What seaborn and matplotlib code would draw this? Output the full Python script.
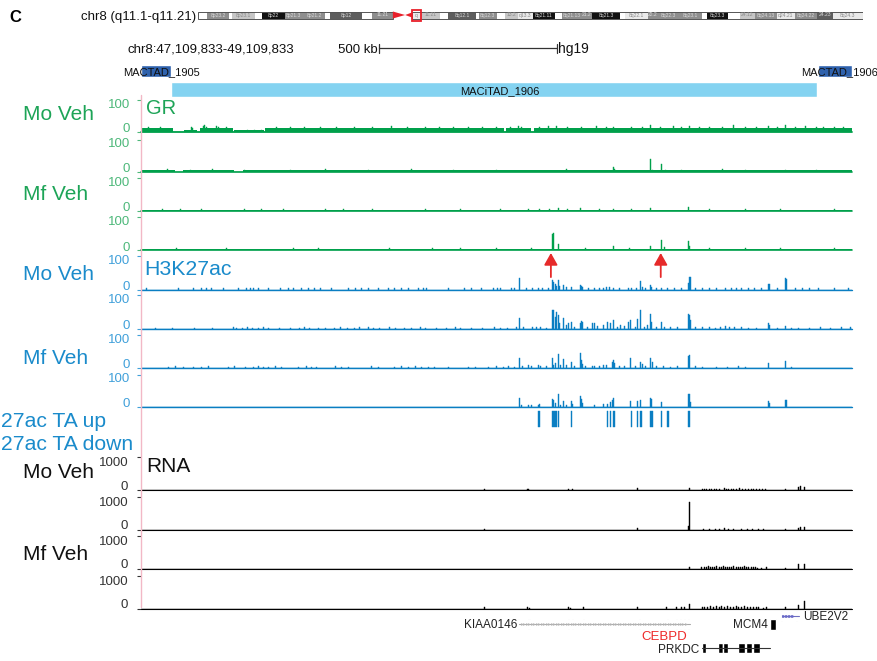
import numpy as np
import pandas as pd
import matplotlib
matplotlib.use("Agg")
import matplotlib.pyplot as plt
import seaborn as sns
from matplotlib import font_manager as fm
from matplotlib.lines import Line2D
from matplotlib.patches import Rectangle, Polygon

# ---------------------------------------------------------------- data
panel_letter = "C"
chrom_label = "chr8 (q11.1-q11.21)"
region_label = "chr8:47,109,833-49,109,833"
scale_label = "500 kb"
genome_label = "hg19"
window_kb = 2000          # 47,109,833 - 49,109,833
view_mb = (47.1, 49.1)    # highlighted region on the ideogram
scalebar_kb = (669, 1169)

# chromosome 8 ideogram bands: start Mb, end Mb, stain, name
band_start = [0, 2.0, 6.8, 7.5, 12.5, 14.1, 19.1, 23.1, 28.0, 29.1, 36.1, 38.3,
              47.1, 49.1, 53.3, 55.0, 61.2, 61.8, 65.8, 67.6, 70.4, 73.7, 78.6,
              80.1, 84.5, 86.7, 92.9, 94.0, 99.0, 101.0, 106.1, 110.9, 112.0,
              116.6, 119.3, 122.6, 127.4, 131.4, 136.2, 139.7]
band_end = [2.0, 6.8, 7.5, 12.5, 14.1, 19.1, 23.1, 28.0, 29.1, 36.1, 38.3, 42.9,
            49.1, 53.3, 55.0, 61.2, 61.8, 65.8, 67.6, 70.4, 73.7, 78.6, 80.1,
            84.5, 86.7, 92.9, 94.0, 99.0, 101.0, 106.1, 110.9, 112.0, 116.6,
            119.3, 122.6, 127.4, 131.4, 136.2, 139.7, 146.4]
band_stain = ["w", "g50", "w", "g25", "w", "g100", "g50", "g50", "w", "g75", "w", "g50",
              "g10", "g25", "w", "g75", "w", "g50", "w", "g25", "g10", "g100", "w",
              "g50", "g50", "g100", "w", "g10", "g50", "g50", "g50", "w", "g100",
              "w", "g25", "g50", "g10", "g50", "g75", "g10"]
band_name = ["", "8p23.2", "", "8p23.1", "", "8p22", "8p21.3", "8p21.2", "", "8p12", "", "11.21",
             "q", "11.21", "", "8q12.1", "", "8q12.3", "", "13.2", "q13.3", "8q21.11", "",
             "8q21.13", "21.2", "8q21.3", "", "8q22.1", "22.2", "8q22.3", "8q23.1", "", "8q23.3",
             "", "24.12", "8q24.13", "q24.21", "8q24.22", "24.23", "8q24.3"]
centromere_mb = (42.9, 45.6, 47.1)
chrom_len_mb = 146.4

# TADs (kb within window)
tad_boxes = [(0, 84), (1904, 96)]
itad_boxes = [(84, 1818)]
tad_left_label = "MACTAD_1905"
tad_right_label = "MACTAD_1906"
itad_label = "MACiTAD_1906"

# GR ChIP-seq (kb, signal)
gr_mo1_floor = [(0, 91, 12), (120, 158, 5), (166, 259, 12), (262, 345, 4),
                (349, 1021, 12), (1028, 1098, 12), (1106, 2000, 12)]
gr_mo1 = [(20, 15), (55, 14), (141, 15), (146, 12), (175, 18), (180, 20), (185, 14), (213, 16),
          (218, 14), (240, 15), (300, 6), (320, 5), (340, 6), (380, 15), (420, 15), (460, 14),
          (505, 15), (550, 14), (600, 15), (650, 14), (705, 19), (750, 15), (800, 15),
          (840, 14), (880, 15), (920, 14), (960, 15), (1000, 14), (1040, 15), (1061, 17),
          (1071, 15), (1120, 14), (1146, 16), (1169, 17), (1200, 15), (1240, 14), (1282, 19),
          (1310, 15), (1330, 15), (1380, 15), (1410, 14), (1432, 21), (1460, 15), (1497, 17),
          (1520, 14), (1543, 17), (1570, 14), (1600, 15), (1635, 14), (1666, 22), (1700, 15),
          (1730, 14), (1765, 17), (1790, 15), (1812, 22), (1840, 14), (1868, 17), (1900, 14),
          (1920, 15), (1950, 14), (1975, 15)]
gr_mo2_floor = [(0, 95, 4), (118, 262, 4), (286, 2000, 4)]
gr_mo2 = [(75, 7), (140, 6), (200, 7), (290, 6), (420, 6), (520, 7), (640, 6), (760, 7),
          (880, 6), (1000, 6), (1196, 8), (1329, 13), (1333, 8), (1432, 39), (1440, 6),
          (1464, 23), (1475, 6), (1520, 6), (1636, 7), (1700, 6), (1812, 6), (1900, 6)]
gr_mf1_floor = [(0, 2000, 2)]
gr_mf1 = [(60, 5), (110, 6), (170, 5), (290, 5), (340, 5), (400, 6), (520, 5), (570, 6),
          (650, 5), (800, 5), (900, 5), (1010, 5), (1090, 5), (1120, 6), (1150, 5),
          (1174, 10), (1200, 6), (1235, 10), (1290, 5), (1330, 6), (1380, 5), (1434, 8),
          (1540, 13), (1600, 5), (1700, 5), (1800, 5), (1950, 5)]
gr_mf2_floor = [(0, 2000, 4)]
gr_mf2 = [(100, 6), (240, 6), (430, 6), (500, 7), (700, 6), (820, 7), (900, 6), (1000, 6),
          (1099, 7), (1157, 48), (1160, 52), (1174, 19), (1250, 6), (1329, 13), (1373, 6),
          (1432, 13), (1464, 32), (1472, 11), (1540, 29), (1544, 13), (1600, 6), (1700, 6),
          (1800, 6), (1950, 6)]

# H3K27ac ChIP-seq (kb, signal)
k27_mo1 = [(16, 4), (105, 4), (147, 4), (171, 4), (185, 4), (199, 4), (232, 5), (274, 4),
           (297, 4), (307, 5), (316, 4), (330, 4), (358, 4), (393, 5), (414, 4), (428, 4),
           (452, 4), (471, 4), (489, 5), (504, 4), (536, 4), (583, 4), (602, 4), (621, 5),
           (639, 4), (668, 4), (696, 4), (714, 5), (733, 4), (752, 4), (780, 5), (794, 5),
           (804, 4), (864, 5), (911, 4), (930, 4), (958, 4), (991, 4), (1003, 5), (1012, 4),
           (1043, 4), (1050, 4), (1064, 33), (1085, 5), (1100, 5), (1118, 5), (1130, 5),
           (1145, 4), (1157, 27), (1160, 22), (1165, 15), (1168, 10), (1174, 27), (1177, 10),
           (1188, 12), (1196, 6), (1211, 6), (1235, 12), (1240, 10), (1243, 6), (1260, 5),
           (1277, 4), (1290, 5), (1301, 5), (1310, 7), (1319, 6), (1329, 5), (1345, 4),
           (1371, 5), (1380, 4), (1395, 5), (1406, 24), (1410, 8), (1420, 4), (1432, 14),
           (1436, 6), (1450, 4), (1465, 4), (1480, 4), (1500, 4), (1520, 4), (1540, 19),
           (1543, 38), (1547, 38), (1560, 4), (1580, 4), (1600, 5), (1620, 4), (1645, 4),
           (1660, 5), (1675, 4), (1690, 4), (1710, 4), (1725, 4), (1745, 4), (1765, 17),
           (1768, 17), (1790, 4), (1812, 33), (1816, 30), (1840, 4), (1860, 4), (1880, 4),
           (1905, 4), (1950, 4), (1990, 4)]
k27_mo2 = [(40, 4), (90, 4), (150, 4), (200, 4), (260, 5), (270, 4), (285, 4), (300, 5),
           (315, 4), (330, 4), (345, 5), (360, 4), (390, 4), (420, 4), (445, 4), (460, 5),
           (475, 4), (500, 4), (520, 4), (545, 4), (560, 5), (580, 4), (600, 4), (615, 5),
           (640, 5), (655, 4), (670, 4), (700, 5), (715, 4), (740, 4), (760, 4), (785, 5),
           (800, 4), (830, 4), (860, 4), (885, 5), (900, 4), (930, 4), (960, 4), (995, 5),
           (1010, 4), (1030, 4), (1055, 5), (1064, 33), (1075, 6), (1100, 5), (1113, 6),
           (1125, 6), (1140, 4), (1157, 55), (1160, 55), (1165, 35), (1168, 49), (1174, 42),
           (1178, 17), (1188, 31), (1196, 12), (1203, 17), (1211, 22), (1220, 5), (1235, 17),
           (1240, 25), (1243, 22), (1255, 6), (1270, 17), (1277, 17), (1285, 8), (1301, 12),
           (1312, 22), (1320, 17), (1329, 26), (1340, 6), (1350, 12), (1360, 10), (1371, 22),
           (1378, 26), (1390, 5), (1396, 28), (1406, 57), (1415, 6), (1425, 12), (1432, 44),
           (1436, 22), (1450, 6), (1464, 22), (1472, 6), (1490, 5), (1510, 5), (1540, 44),
           (1543, 42), (1547, 26), (1560, 6), (1580, 5), (1600, 6), (1615, 4), (1630, 5),
           (1645, 8), (1655, 6), (1670, 5), (1690, 5), (1710, 4), (1730, 4), (1765, 17),
           (1768, 12), (1790, 4), (1812, 10), (1830, 4), (1850, 4), (1880, 4), (1910, 5),
           (1940, 4), (1970, 5), (1995, 6)]
k27_mf1 = [(77, 4), (96, 5), (119, 4), (147, 4), (171, 4), (189, 5), (246, 4), (264, 5),
           (293, 4), (316, 4), (330, 5), (344, 4), (358, 4), (377, 5), (396, 4), (443, 4),
           (466, 5), (480, 4), (494, 4), (546, 5), (565, 4), (583, 4), (649, 5), (668, 4),
           (714, 4), (733, 5), (752, 4), (771, 5), (790, 4), (808, 4), (827, 4), (864, 4),
           (921, 4), (940, 4), (977, 4), (1000, 5), (1020, 4), (1035, 6), (1050, 4),
           (1064, 30), (1072, 6), (1090, 8), (1098, 5), (1118, 8), (1125, 5), (1140, 6),
           (1157, 30), (1160, 10), (1165, 15), (1174, 41), (1180, 8), (1188, 27), (1196, 8),
           (1211, 17), (1220, 5), (1235, 44), (1240, 25), (1243, 12), (1250, 5), (1270, 6),
           (1277, 5), (1290, 6), (1301, 8), (1310, 8), (1325, 17), (1329, 24), (1333, 14),
           (1345, 5), (1360, 6), (1378, 30), (1390, 5), (1406, 17), (1410, 11), (1420, 5),
           (1434, 30), (1438, 18), (1450, 5), (1470, 5), (1490, 4), (1510, 5), (1540, 35),
           (1543, 38), (1560, 5), (1580, 4), (1620, 4), (1650, 4), (1680, 5), (1700, 4),
           (1765, 16), (1812, 22), (1830, 4)]
k27_mf2 = [(1064, 28), (1070, 6), (1090, 6), (1099, 5), (1118, 6), (1121, 8), (1157, 26),
           (1160, 22), (1165, 12), (1174, 41), (1180, 6), (1188, 19), (1196, 6), (1211, 19),
           (1214, 8), (1235, 34), (1240, 26), (1243, 12), (1277, 5), (1301, 8), (1312, 8),
           (1320, 16), (1326, 22), (1330, 28), (1378, 20), (1396, 19), (1406, 21),
           (1432, 28), (1436, 24), (1464, 16), (1540, 39), (1543, 39), (1547, 16),
           (1765, 17), (1768, 12), (1812, 23), (1816, 23)]
# TA-regulated H3K27ac regions (start kb, width kb)
ta_up_regions = [(1118, 3.5), (1155, 14), (1172, 3.5), (1209, 3.5), (1310, 3.5), (1318, 3.5),
                 (1328, 4.5), (1377, 3.5), (1394, 3.5), (1404, 4.5), (1431, 8), (1462, 3.5),
                 (1481, 3.5), (1538, 6)]
arrow_kb = [1153, 1462]

# RNA-seq (kb, signal)
rna_mo1 = [(967, 40), (1086, 40), (1090, 30), (1202, 40), (1214, 30), (1396, 50), (1542, 70),
           (1580, 30), (1586, 40), (1592, 30), (1600, 30), (1606, 40), (1612, 20), (1620, 40),
           (1628, 30), (1640, 70), (1646, 40), (1652, 30), (1660, 30), (1668, 40), (1676, 30),
           (1684, 50), (1692, 30), (1700, 40), (1708, 30), (1716, 40), (1724, 30), (1732, 40),
           (1740, 30), (1748, 20), (1756, 30), (1813, 30), (1849, 80), (1854, 120), (1865, 100)]
rna_mo2 = [(967, 30), (1396, 40), (1539, 100), (1542, 840), (1582, 20), (1600, 30), (1615, 20),
           (1628, 30), (1640, 40), (1652, 20), (1668, 30), (1690, 30), (1705, 20), (1720, 30),
           (1738, 20), (1750, 30), (1813, 30), (1849, 60), (1854, 80), (1865, 70)]
rna_mf1 = [(1542, 40), (1578, 40), (1584, 60), (1590, 50), (1596, 70), (1602, 40), (1608, 60),
           (1614, 50), (1620, 80), (1626, 60), (1632, 40), (1638, 70), (1644, 60), (1650, 50),
           (1656, 40), (1662, 60), (1668, 70), (1674, 50), (1680, 40), (1686, 60), (1692, 50),
           (1698, 70), (1704, 40), (1710, 60), (1716, 50), (1722, 40), (1728, 60), (1734, 30),
           (1746, 30), (1760, 40), (1813, 30), (1849, 130), (1865, 130)]
rna_mf2 = [(967, 40), (1086, 40), (1092, 30), (1202, 40), (1207, 30), (1245, 40), (1396, 50),
           (1479, 40), (1507, 40), (1521, 50), (1530, 40), (1542, 130), (1580, 50), (1586, 60),
           (1594, 50), (1602, 70), (1610, 60), (1618, 80), (1626, 50), (1634, 70), (1642, 60),
           (1650, 80), (1658, 50), (1666, 60), (1674, 70), (1682, 50), (1690, 60), (1698, 70),
           (1706, 50), (1714, 60), (1722, 40), (1730, 60), (1738, 40), (1750, 30), (1760, 40),
           (1813, 40), (1849, 100), (1865, 220)]

# genes (kb)
kiaa_span = (1063, 1544)
kiaa_exons = [1063, 1083, 1089, 1094, 1202, 1213, 1246, 1402, 1480, 1507, 1518, 1530, 1540]
cebpd_exon = 1541
mcm4_block = (1769, 17)
ube2v2_span = (1802, 1852)
ube2v2_exons = [1802, 1837, 1844, 1851]
prkdc_span = (1577, 1769)
prkdc_blocks = [(1577, 13), (1593, 3), (1600, 3), (1624, 12), (1638, 14), (1666, 2.5),
                (1680, 20), (1702, 18), (1722, 19), (1744, 3), (1753, 3), (1763, 4)]

# ---------------------------------------------------------------- style
sns.set_theme(style="white")
names = {f.name for f in fm.fontManager.ttflist}
BASE = ["Liberation Sans", "DejaVu Sans"]
HAS_NARROW = "Liberation Sans Narrow" in names
NARROW = (["Liberation Sans Narrow"] + BASE) if HAS_NARROW else BASE
plt.rcParams["font.family"] = BASE
TICK_FS = 10.5 if HAS_NARROW else 9.5
GENE_FS = 9.5 if HAS_NARROW else 8.5

GR_SIG, GR_LBL, GR_TICK = "#00A04B", "#1DA457", "#4DB87A"
K_SIG, K_LBL, K_TICK = "#0A7EC2", "#1A8BCB", "#40A0DA"
R_SIG, R_LBL, R_TICK = "#000000", "#111111", "#333333"

W, H = 878, 661
X0, X1 = 141, 852
fig = plt.figure(figsize=(W / 100, H / 100), dpi=100)


def px_axes(x0, y0, x1, y1, z=1):
    ax = fig.add_axes([x0 / W, 1 - y1 / H, (x1 - x0) / W, (y1 - y0) / H], zorder=z)
    ax.patch.set_alpha(0)
    for sp in ax.spines.values():
        sp.set_visible(False)
    ax.set_xticks([])
    ax.set_yticks([])
    return ax


ov = fig.add_axes([0, 0, 1, 1], zorder=20)
ov.set_xlim(0, W)
ov.set_ylim(H, 0)
ov.axis("off")
ov.patch.set_alpha(0)


def label(x, yc, s, size, color="black", ha="left", family=None, weight="normal"):
    base = yc + 0.358 * size * 100 / 72
    ov.text(x, base, s, fontsize=size, color=color, ha=ha, va="baseline",
            family=family if family else BASE, fontweight=weight)


BINW = window_kb / (X1 - X0)


def signal_track(peaks, floor, top, base, ymax, color, tick, lw):
    ax = px_axes(X0, top, X1, base, z=2)
    df = pd.DataFrame(peaks, columns=["kb", "signal"])
    sns.histplot(data=df, x="kb", weights="signal", binwidth=BINW, binrange=(0, window_kb),
                 ax=ax, color=color, alpha=1, edgecolor=color, linewidth=0.3, legend=False)
    for s, e, lvl in floor:
        ax.fill_between([s, e], [0, 0], [lvl, lvl], color=color, linewidth=0)
    ax.axhline(0, color=color, lw=lw, clip_on=False)
    ax.set_xlim(0, window_kb)
    ax.set_ylim(0, ymax)
    ax.set_xlabel("")
    ax.set_ylabel("")
    ax.set_xticks([])
    ax.set_yticks([0, ymax])
    ax.tick_params(axis="y", left=True, length=3, width=0.8, color=tick, labelleft=False)
    big = ymax >= 1000
    rx = 128.3 if big else 130
    label(rx, base - (5 if big else 4.7), "0", TICK_FS, tick, ha="right", family=NARROW)
    label(rx, top + (4.7 if big else 2.8), str(ymax), TICK_FS, tick, ha="right", family=NARROW)
    return ax


tracks = [
    (gr_mo1, gr_mo1_floor, 100, 131.5, 100, GR_SIG, GR_TICK, 1.3),
    (gr_mo2, gr_mo2_floor, 139.5, 171.5, 100, GR_SIG, GR_TICK, 1.2),
    (gr_mf1, gr_mf1_floor, 178, 211, 100, GR_SIG, GR_TICK, 1.2),
    (gr_mf2, gr_mf2_floor, 217, 250.5, 100, GR_SIG, GR_TICK, 1.2),
    (k27_mo1, [], 256, 289.5, 100, K_SIG, K_TICK, 1.0),
    (k27_mo2, [], 295, 329, 100, K_SIG, K_TICK, 1.0),
    (k27_mf1, [], 335, 368, 100, K_SIG, K_TICK, 1.0),
    (k27_mf2, [], 374.5, 407, 100, K_SIG, K_TICK, 1.0),
    (rna_mo1, [], 457, 490, 1000, R_SIG, R_TICK, 0.8),
    (rna_mo2, [], 497, 529.5, 1000, R_SIG, R_TICK, 0.8),
    (rna_mf1, [], 536, 568.5, 1000, R_SIG, R_TICK, 0.8),
    (rna_mf2, [], 576, 608.5, 1000, R_SIG, R_TICK, 0.8),
]
track_axes = [signal_track(*t) for t in tracks]

# red arrows above the H3K27ac track
k1 = track_axes[4]
for xk in arrow_kb:
    k1.annotate("", xy=(xk, 109), xytext=(xk, 37), xycoords="data",
                arrowprops=dict(arrowstyle="-|>,head_length=0.8,head_width=0.45",
                                mutation_scale=9, color="#E62A2A", lw=1.3,
                                shrinkA=0, shrinkB=0),
                annotation_clip=False)

# TA-up regions
ta = px_axes(X0, 408, X1, 430, z=2)
ta.set_xlim(0, window_kb)
ta.set_ylim(430, 408)
ta.broken_barh(ta_up_regions, (411, 16), facecolors=K_SIG, edgecolors=K_SIG, linewidth=0.3)

# ---------------------------------------------------------------- ideogram
STAIN = {"w": "#FFFFFF", "g10": "#EAEAEA", "g25": "#C6C6C6", "g50": "#8E8E8E",
         "g75": "#5E5E5E", "g100": "#111111"}
ID_X0, ID_X1 = 198, 863
ideo = px_axes(ID_X0, 6, ID_X1, 24, z=3)
ideo.set_xlim(0, chrom_len_mb)
ideo.set_ylim(24, 6)
for s, e, st, nm in zip(band_start, band_end, band_stain, band_name):
    ideo.add_patch(Rectangle((s, 11.5), e - s, 7, facecolor=STAIN[st], edgecolor="none"))
    if nm:
        dark = st in ("g75", "g100", "g50")
        ideo.text((s + e) / 2, 15, nm, fontsize=3.6, ha="center", va="center",
                  color="#DADADA" if dark else "#8A8A8A")
ideo.add_patch(Rectangle((0, 11.5), centromere_mb[0], 7, fill=False, edgecolor="#555555", lw=0.7))
ideo.add_patch(Rectangle((centromere_mb[2], 11.5), chrom_len_mb - centromere_mb[2], 7,
                         fill=False, edgecolor="#555555", lw=0.7))
c0, c1, c2 = centromere_mb
ideo.add_patch(Polygon([(c0, 11.5), (c0, 18.5), (c1, 15)], closed=True, facecolor="#E8202A", edgecolor="none"))
ideo.add_patch(Polygon([(c1, 15), (c2, 12.5), (c2, 17.5)], closed=True, facecolor="#E8202A", edgecolor="none"))
ideo.add_patch(Rectangle((view_mb[0], 10), view_mb[1] - view_mb[0], 10.5, fill=False,
                         edgecolor="#E8202A", lw=1.3))

# ---------------------------------------------------------------- header: scale bar + TADs
hdr = px_axes(X0, 38, X1, 100, z=3)
hdr.set_xlim(0, window_kb)
hdr.set_ylim(100, 38)
hdr.plot(list(scalebar_kb), [48, 48], color="#333333", lw=0.9, clip_on=False)
for xk in scalebar_kb:
    hdr.plot([xk, xk], [44, 53], color="#333333", lw=0.9, clip_on=False)
hdr.broken_barh(itad_boxes, (82, 15), facecolors="#84D3F1")
hdr.broken_barh(tad_boxes, (65, 12), facecolors="#2F62AD")

# ---------------------------------------------------------------- genes
gn = px_axes(X0, 606, X1, 658, z=3)
gn.set_xlim(0, window_kb)
gn.set_ylim(658, 606)
gn.plot(list(kiaa_span), [624, 624], color="#A8A8A8", lw=0.8)
kx = np.arange(kiaa_span[0] + 8, kiaa_span[1] - 4, 7.0)
gn.plot(kx, np.full(len(kx), 624), ls="none", marker=">", ms=2, color="#B4B4B4", mew=0)
gn.bar(kiaa_exons, 10, bottom=619, width=2.6, color="black", align="center")
gn.bar([cebpd_exon], 10, bottom=632, width=2.6, color="#EE2A2A", align="center")
gn.bar([mcm4_block[0]], 11, bottom=619, width=mcm4_block[1], color="black", align="edge")
gn.plot(list(ube2v2_span), [615.5, 615.5], color="#7070C0", lw=0.8)
ub = np.arange(ube2v2_span[0] + 4, ube2v2_exons[1] - 1, 4.0)
gn.plot(ub, np.full(len(ub), 615.5), ls="none", marker=">", ms=2.2, color="#6A6AC8", mew=0)
gn.bar(ube2v2_exons, 10, bottom=610.5, width=1.8, color="#222222", align="center")
gn.plot(list(prkdc_span), [648, 648], color="#333333", lw=0.8)
gn.broken_barh(prkdc_blocks, (643, 10), facecolors="black")


def kb2px(k):
    return X0 + k / BINW


label(517, 624, "KIAA0146", GENE_FS, "#222222", ha="right", family=NARROW)
label(kb2px(cebpd_exon) - 1.5, 635.5, "CEBPD", 9.5, "#EE2A2A", ha="right", family=NARROW)
label(kb2px(mcm4_block[0]) - 2, 624, "MCM4", GENE_FS, "#222222", ha="right", family=NARROW)
label(803, 615.5, "UBE2V2", GENE_FS, "#222222", ha="left", family=NARROW)
label(kb2px(prkdc_span[0]) - 2.5, 649, "PRKDC", GENE_FS, "#222222", ha="right", family=NARROW)

# ---------------------------------------------------------------- texts
label(9, 16, panel_letter, 12, "black", weight="bold")
label(81, 15.5, chrom_label, 9.5, "#111111")
label(128, 48, region_label, 9.5, "#111111")
label(kb2px(scalebar_kb[0]) - 1.5, 48, scale_label, 9.5, "#111111", ha="right")
label(kb2px(scalebar_kb[1]) + 1.5, 48, genome_label, 10, "#111111")
label(123, 71, tad_left_label, 8, "#111111")
label(801.5, 71, tad_right_label, 8, "#111111")
label(500, 90, itad_label, 8, "#111111", ha="center")

label(23, 112.5, "Mo Veh", 15, GR_LBL)
label(146, 107, "GR", 14.5, GR_LBL)
label(23, 192.5, "Mf Veh", 15, GR_LBL)
label(23, 273, "Mo Veh", 15, K_LBL)
label(144, 267, "H3K27ac", 15.3, K_LBL)
label(23, 356.5, "Mf Veh", 15, K_LBL)
label(1, 419, "27ac TA up", 15.2, K_LBL)
label(1, 442, "27ac TA down", 15.2, K_LBL)
label(23, 471, "Mo Veh", 15, R_LBL)
label(146, 464.5, "RNA", 15, R_LBL)
label(23, 552.5, "Mf Veh", 15, R_LBL)

# left pink axis line
ov.add_line(Line2D([141, 141], [95, 607], color="#F2B8C6", lw=1.0))

fig.savefig("out.png", dpi=100, facecolor="white")
